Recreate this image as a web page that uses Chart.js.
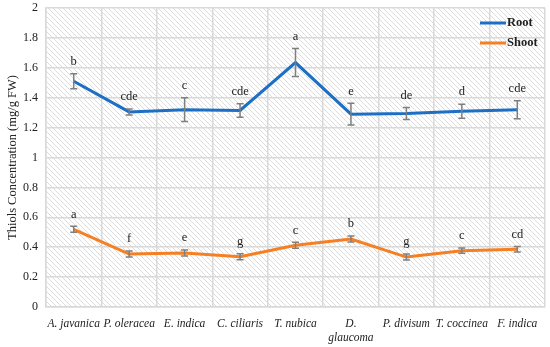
<!DOCTYPE html>
<html><head><meta charset="utf-8">
<script src="https://cdn.jsdelivr.net/npm/chart.js@4/dist/chart.umd.min.js"></script>
<style>html,body{margin:0;padding:0;background:#fff}</style>
</head><body>
<canvas id="c" width="550" height="347"></canvas>
<script>
const categories = ['A. javanica','P. oleracea','E. indica','C. ciliaris','T. nubica',['D.','glaucoma'],'P. divisum','T. coccinea','F. indica'];
const rootValues   = [1.51, 1.305, 1.32, 1.315, 1.635, 1.29, 1.295, 1.31, 1.32];
const rootErrors   = [0.05, 0.02, 0.08, 0.045, 0.094, 0.073, 0.04, 0.047, 0.06];
const rootLetters  = ['b','cde','c','cde','a','e','de','d','cde'];
const shootValues  = [0.52, 0.354, 0.361, 0.336, 0.413, 0.455, 0.334, 0.377, 0.386];
const shootErrors  = [0.02, 0.02, 0.02, 0.02, 0.02, 0.02, 0.02, 0.018, 0.018];
const shootLetters = ['a','f','e','g','c','b','g','c','cd'];
const yMin = 0, yMax = 2, yStep = 0.2;
const yTitle = 'Thiols Concentration (mg/g FW)';

const ROOT = '#1c6fc4', SHOOT = '#f57f22';
const SERIF = '"Liberation Serif", "DejaVu Serif", serif';

function hatch(ctx){
  const p = document.createElement('canvas'); p.width = 5; p.height = 5;
  const g = p.getContext('2d');
  g.fillStyle = '#ffffff'; g.fillRect(0,0,5,5);
  g.strokeStyle = '#dcdcdc'; g.lineWidth = 1;
  g.beginPath(); g.moveTo(-1,-1); g.lineTo(6,6); g.moveTo(-1,4); g.lineTo(1,6); g.moveTo(4,-1); g.lineTo(6,1); g.stroke();
  return ctx.createPattern(p,'repeat');
}

const extras = {
  id: 'extras',
  beforeDraw(chart){
    const {ctx, chartArea:a} = chart;
    ctx.save(); ctx.fillStyle = hatch(ctx);
    ctx.fillRect(a.left, a.top, a.right-a.left, a.bottom-a.top); ctx.restore();
  },
  afterDatasetsDraw(chart){
    const {ctx, scales:{x,y}} = chart;
    const sets = [[rootValues, rootErrors, rootLetters],[shootValues, shootErrors, shootLetters]];
    ctx.save();
    sets.forEach(([vals, errs, lets]) => {
      vals.forEach((v,i) => {
        const px = x.getPixelForValue(i);
        const top = y.getPixelForValue(v+errs[i]), bot = y.getPixelForValue(v-errs[i]);
        ctx.strokeStyle = '#7f7f7f'; ctx.lineWidth = 1.5;
        ctx.beginPath();
        ctx.moveTo(px, top); ctx.lineTo(px, bot);
        ctx.moveTo(px-3.5, top); ctx.lineTo(px+3.5, top);
        ctx.moveTo(px-3.5, bot); ctx.lineTo(px+3.5, bot);
        ctx.stroke();
        ctx.fillStyle = '#222'; ctx.font = '12.5px ' + SERIF;
        ctx.textAlign = 'center'; ctx.textBaseline = 'middle';
        ctx.fillText(lets[i], px, top - 12);
      });
    });
    const items = [['Root', ROOT],['Shoot', SHOOT]];
    items.forEach(([t,c],k) => {
      const yy = 23 + k*20;
      ctx.strokeStyle = c; ctx.lineWidth = 3;
      ctx.beginPath(); ctx.moveTo(480, yy); ctx.lineTo(506, yy); ctx.stroke();
      ctx.fillStyle = '#222'; ctx.font = 'bold 12.5px ' + SERIF;
      ctx.textAlign = 'left'; ctx.textBaseline = 'middle';
      ctx.fillText(t, 507, yy);
    });
    ctx.restore();
  }
};

new Chart(document.getElementById('c'), {
  type: 'line',
  data: {
    labels: categories,
    datasets: [
      {label:'Root', data: rootValues, borderColor: ROOT, backgroundColor: ROOT, borderWidth: 3, pointRadius: 0, tension: 0},
      {label:'Shoot', data: shootValues, borderColor: SHOOT, backgroundColor: SHOOT, borderWidth: 3, pointRadius: 0, tension: 0}
    ]
  },
  options: {
    responsive: false, animation: false, devicePixelRatio: 1,
    layout: {padding: {left: 0, right: 5, top: 8, bottom: 0}},
    plugins: {legend: {display: false}, tooltip: {enabled: false}},
    scales: {
      x: {
        offset: true,
        grid: {color: '#d9d9d9', lineWidth: 1.5, offset: true, drawTicks: false},
        border: {display: true, color: '#d9d9d9', width: 1.5},
        ticks: {color: '#222', font: {family: SERIF, size: 11.5, style: 'italic'}, padding: 10, maxRotation: 0, autoSkip: false},
        afterFit(s){ s.height = 40; s.paddingLeft = 0; s.paddingRight = 0; }
      },
      y: {
        min: yMin, max: yMax,
        grid: {color: '#d9d9d9', lineWidth: 1.5, drawTicks: false},
        border: {display: true, color: '#d9d9d9', width: 1.5},
        ticks: {stepSize: yStep, color: '#222', font: {family: SERIF, size: 12}, padding: 8,
                callback: v => String(Math.round(v*10)/10)},
        title: {display: true, text: yTitle, color: '#222', font: {family: SERIF, size: 12.5}, padding: {top: 5, bottom: 4}},
        afterFit(s){ s.width = 46; s.paddingTop = 0; s.paddingBottom = 0; }
      }
    }
  },
  plugins: [extras]
});
</script>
</body></html>
